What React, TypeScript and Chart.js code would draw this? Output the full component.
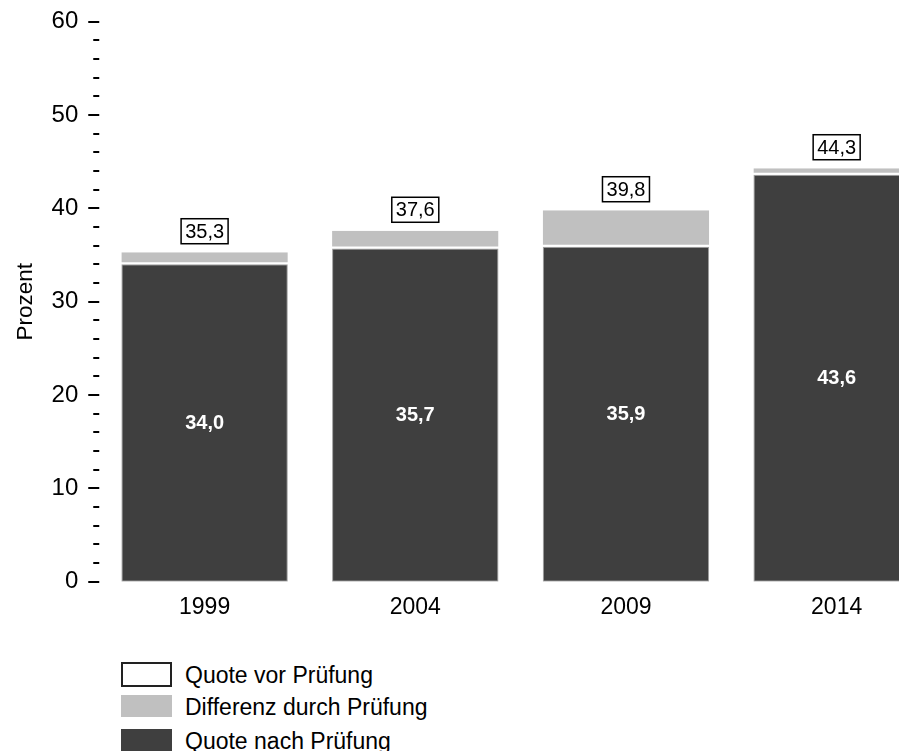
import React, { useEffect, useRef } from "react";
import { Chart, registerables } from "chart.js";

Chart.register(...registerables);

const categories = ["1999", "2004", "2009", "2014"];
const quoteNachPruefung = [34.0, 35.7, 35.9, 43.6];
const differenzDurchPruefung = [1.3, 1.9, 3.9, 0.7];
const quoteVorPruefung = [35.3, 37.6, 39.8, 44.3];
const yTickValues = [0, 10, 20, 30, 40, 50, 60];

const FONT = "'Liberation Sans', Arial, sans-serif";
const DARK = "#3f3f3f";
const LIGHT = "#c0c0c0";

const fmt = (v: number) => v.toFixed(1).replace(".", ",");

const labelPlugin = {
  id: "labels",
  afterDatasetsDraw(chart: any) {
    const ctx = chart.ctx;
    const m0 = chart.getDatasetMeta(0);
    const m1 = chart.getDatasetMeta(1);
    ctx.save();
    ctx.textAlign = "center";
    ctx.textBaseline = "middle";
    for (let i = 0; i < categories.length; i++) {
      const b0 = m0.data[i];
      const b1 = m1.data[i];
      // inner label
      ctx.fillStyle = "#ffffff";
      ctx.font = `bold 20px ${FONT}`;
      ctx.fillText(fmt(quoteNachPruefung[i]), b0.x, (b0.y + b0.base) / 2);
      // boxed total label
      const w = 47;
      const h = 25;
      const bottom = b1.y - 8.5;
      const top = bottom - h;
      ctx.fillStyle = "#ffffff";
      ctx.fillRect(b1.x - w / 2, top, w, h);
      ctx.strokeStyle = "#000";
      ctx.lineWidth = 1.5;
      ctx.strokeRect(b1.x - w / 2, top, w, h);
      ctx.fillStyle = "#000";
      ctx.font = `20px ${FONT}`;
      ctx.fillText(fmt(quoteVorPruefung[i]), b1.x, top + h / 2 + 1);
    }
    ctx.restore();
  },
  afterDraw(chart: any) {
    const ctx = chart.ctx;
    const ys = chart.scales.y;
    const left = chart.chartArea.left;
    ctx.save();
    ctx.strokeStyle = "#000";
    ctx.lineWidth = 2;
    for (let v = 0; v <= 60; v += 2) {
      const py = Math.round(ys.getPixelForValue(v));
      const len = v % 10 === 0 ? 11 : 6;
      ctx.beginPath();
      ctx.moveTo(left - len, py);
      ctx.lineTo(left, py);
      ctx.stroke();
    }
    ctx.restore();
  },
};

export default function App() {
  const ref = useRef<HTMLCanvasElement | null>(null);
  useEffect(() => {
    document.documentElement.style.overflow = "hidden";
    document.body.style.overflow = "hidden";
    if (!ref.current) return;
    Chart.defaults.font.family = FONT;
    Chart.defaults.color = "#000";
    const chart = new Chart(ref.current, {
      type: "bar",
      data: {
        labels: categories,
        datasets: [
          {
            label: "Quote nach Prüfung",
            data: quoteNachPruefung,
            backgroundColor: DARK,
            borderColor: "#a0a0a0",
            borderWidth: 1,
            borderSkipped: false,
            barPercentage: 0.79,
            categoryPercentage: 1,
          },
          {
            label: "Differenz durch Prüfung",
            data: differenzDurchPruefung,
            backgroundColor: LIGHT,
            borderColor: "#ffffff",
            borderWidth: { top: 0, left: 0, right: 0, bottom: 2 },
            borderSkipped: false,
            barPercentage: 0.79,
            categoryPercentage: 1,
          },
        ],
      },
      options: {
        responsive: false,
        animation: false,
        layout: { padding: { top: 13.7, left: 0, right: 0, bottom: 0 } },
        plugins: {
          legend: { display: false },
          tooltip: { enabled: false },
        },
        scales: {
          x: {
            stacked: true,
            grid: { display: false, drawTicks: false },
            border: { display: false },
            ticks: { font: { size: 23 }, color: "#000", padding: 12 },
            afterFit: (s: any) => {
              s.height = 66.3;
              s.paddingLeft = 0;
              s.paddingRight = 0;
            },
          },
          y: {
            stacked: true,
            min: 0,
            max: 60,
            grid: { display: false, drawTicks: false },
            border: { display: false },
            afterBuildTicks: (s: any) => {
              s.ticks = yTickValues.map((v) => ({ value: v }));
            },
            ticks: {
              autoSkip: false,
              font: { size: 24 },
              color: "#000",
              padding: 21,
            },
            title: {
              display: true,
              text: "Prozent",
              font: { size: 22.5 },
              color: "#000",
              padding: { top: 4, bottom: 0 },
            },
            afterFit: (s: any) => {
              s.width = 91.25;
              s.paddingTop = 0;
              s.paddingBottom = 0;
            },
          },
        },
      },
      plugins: [labelPlugin],
    });
    return () => chart.destroy();
  }, []);

  const legendItems = [
    { label: "Quote vor Prüfung", bg: "#ffffff", border: "2px solid #222", top: 654, boxTop: 654, h: 25 },
    { label: "Differenz durch Prüfung", bg: LIGHT, border: "none", top: 685.5, boxTop: 687, h: 22 },
    { label: "Quote nach Prüfung", bg: DARK, border: "none", top: 719.5, boxTop: 721, h: 22 },
  ];

  return (
    <div
      style={{
        position: "relative",
        width: 899,
        height: 743,
        overflow: "hidden",
        fontFamily: FONT,
      }}
    >
      <canvas ref={ref} width={934} height={640} style={{ display: "block", width: 934, height: 640 }} />
      {legendItems.map((it) => (
        <React.Fragment key={it.label}>
          <div
            style={{
              position: "absolute",
              left: 113,
              top: it.boxTop,
              width: 51,
              height: it.h,
              boxSizing: "border-box",
              background: it.bg,
              border: it.border,
            }}
          />
          <div
            style={{
              position: "absolute",
              left: 177,
              top: it.top,
              fontSize: 23,
              lineHeight: "26px",
              color: "#000",
              whiteSpace: "nowrap",
            }}
          >
            {it.label}
          </div>
        </React.Fragment>
      ))}
    </div>
  );
}
